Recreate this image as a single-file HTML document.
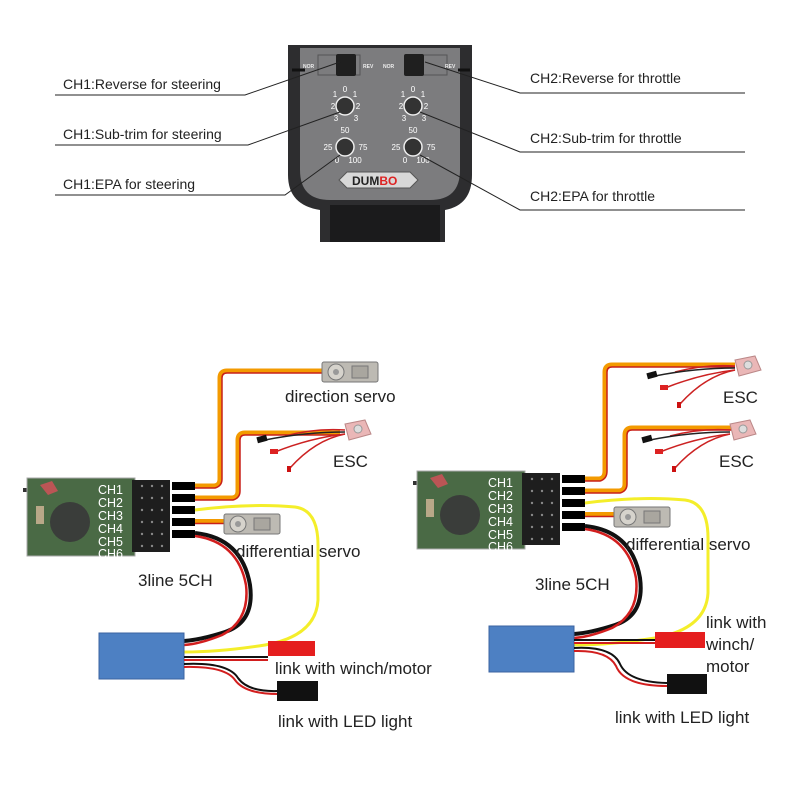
<!DOCTYPE html>
<html><head><meta charset="utf-8"><style>
html,body{margin:0;padding:0;background:#fff;}
svg{display:block;}
text{font-family:"Liberation Sans",sans-serif;}
</style></head><body>
<svg width="800" height="789" viewBox="0 0 800 789" xmlns="http://www.w3.org/2000/svg">
<defs>
<g id="rx">
  <rect x="23" y="488" width="6" height="4" fill="#333"/>
  <rect x="27" y="478" width="108" height="78" fill="#4a6a45"/>
  <rect x="27" y="478" width="108" height="78" fill="none" stroke="#aaa" stroke-width="1"/>
  <circle cx="70" cy="522" r="20" fill="#3a3d3a"/>
  <rect x="36" y="506" width="8" height="18" fill="#b9a888"/>
  <path d="M40 485 l12 -4 l6 10 l-10 4z" fill="#b55"/>
  <rect x="132" y="480" width="38" height="72" fill="#1e1e1e"/>
  <g fill="#888">
    <circle cx="142" cy="486" r="1.2"/><circle cx="152" cy="486" r="1.2"/><circle cx="162" cy="486" r="1.2"/>
    <circle cx="142" cy="498" r="1.2"/><circle cx="152" cy="498" r="1.2"/><circle cx="162" cy="498" r="1.2"/>
    <circle cx="142" cy="510" r="1.2"/><circle cx="152" cy="510" r="1.2"/><circle cx="162" cy="510" r="1.2"/>
    <circle cx="142" cy="522" r="1.2"/><circle cx="152" cy="522" r="1.2"/><circle cx="162" cy="522" r="1.2"/>
    <circle cx="142" cy="534" r="1.2"/><circle cx="152" cy="534" r="1.2"/><circle cx="162" cy="534" r="1.2"/>
    <circle cx="142" cy="546" r="1.2"/><circle cx="152" cy="546" r="1.2"/><circle cx="162" cy="546" r="1.2"/>
  </g>
  <g fill="#000">
    <rect x="172" y="482" width="23" height="8"/><rect x="172" y="494" width="23" height="8"/>
    <rect x="172" y="506" width="23" height="8"/><rect x="172" y="518" width="23" height="8"/>
    <rect x="172" y="530" width="23" height="8"/>
  </g>
  <!-- CH3 yellow -->
  <path d="M195 510 Q250 503 295 507 Q318 510 318 545 V600 Q316 636 265 645 Q220 652 184 652" fill="none" stroke="#f4ee2a" stroke-width="3"/>
  <!-- CH4 -->
  <path d="M195 521 H226" stroke="#f39a00" stroke-width="4"/>
  <path d="M195 523.5 H226" stroke="#c8201a" stroke-width="1.5"/>
  <!-- CH5 -->
  <path d="M195 533 Q242 538 250 585 Q255 622 225 632 Q200 640 184 641" fill="none" stroke="#111" stroke-width="4"/>
  <path d="M195 536 Q238 542 246 585 Q250 620 222 635 Q200 644 184 645" fill="none" stroke="#d21e1e" stroke-width="2.5"/>
  <!-- diff servo -->
  <rect x="224" y="514" width="56" height="20" rx="2" fill="#bdbab3" stroke="#777"/>
  <circle cx="238" cy="524" r="8" fill="#d6d3cc" stroke="#777"/>
  <circle cx="238" cy="524" r="3" fill="#999"/>
  <rect x="254" y="518" width="16" height="12" fill="#a9a69f" stroke="#777"/>
  <!-- blue box -->
  <rect x="99" y="633" width="85" height="46" fill="#4d80c3" stroke="#3b63a0"/>
</g>
<g id="esc">
  <path d="M0 0 Q-30 -2 -60 6" fill="none" stroke="#c22" stroke-width="1.5"/>
  <path d="M0 2 Q-40 2 -80 10" fill="none" stroke="#222" stroke-width="1.5"/>
  <path d="M0 4 Q-35 8 -70 22" fill="none" stroke="#c22" stroke-width="1.5"/>
  <path d="M0 4 Q-30 10 -55 38" fill="none" stroke="#c22" stroke-width="1.5"/>
  <rect x="-88" y="6" width="10" height="6" fill="#111" transform="rotate(-15 -83 9)"/>
  <rect x="-75" y="19" width="8" height="5" fill="#d22"/>
  <rect x="-58" y="36" width="4" height="6" fill="#c11"/>
  <path d="M0 -6 L20 -10 L26 4 L4 10z" fill="#eab7b7" stroke="#b88"/>
  <circle cx="13" cy="-1" r="4" fill="#ddd" stroke="#999"/>
</g>
</defs>

<!-- Transmitter -->
<path d="M288 45 H472 V175 Q472 205 445 210 V242 H320 V210 Q288 205 288 175Z" fill="#2d2d2f"/>
<path d="M300 48 H460 V170 Q460 200 430 200 H330 Q300 200 300 170Z" fill="#7c7c7e"/>
<rect x="330" y="205" width="110" height="37" fill="#1b1b1c"/>
<path d="M292 70 H305 M458 70 H470" stroke="#111" stroke-width="3"/>
<rect x="318" y="55" width="42" height="20" fill="none" stroke="#555"/>
<rect x="405" y="55" width="42" height="20" fill="none" stroke="#555"/>
<rect x="336" y="54" width="20" height="22" rx="2" fill="#1f1f1f"/>
<rect x="404" y="54" width="20" height="22" rx="2" fill="#1f1f1f"/>
<g font-size="5" fill="#eee" font-weight="bold"><text x="303" y="68">NOR</text><text x="363" y="68">REV</text><text x="383" y="68">NOR</text><text x="445" y="68">REV</text></g>
<g fill="#333" stroke="#eee" stroke-width="1.5">
<circle cx="345" cy="106" r="9"/><circle cx="413" cy="106" r="9"/><circle cx="345" cy="147" r="9"/><circle cx="413" cy="147" r="9"/>
</g>
<g font-size="8" fill="#fff" text-anchor="middle">
<text x="345" y="92">0</text><text x="335" y="97">1</text><text x="355" y="97">1</text><text x="333" y="109">2</text><text x="358" y="109">2</text><text x="336" y="121">3</text><text x="356" y="121">3</text>
<text x="413" y="92">0</text><text x="403" y="97">1</text><text x="423" y="97">1</text><text x="401" y="109">2</text><text x="426" y="109">2</text><text x="404" y="121">3</text><text x="424" y="121">3</text>
<text x="345" y="133">50</text><text x="328" y="150">25</text><text x="363" y="150">75</text><text x="337" y="163">0</text><text x="355" y="163">100</text>
<text x="413" y="133">50</text><text x="396" y="150">25</text><text x="431" y="150">75</text><text x="405" y="163">0</text><text x="423" y="163">100</text>
</g>
<path d="M347 172 H410 L418 180 L410 188 H347 L339 180Z" fill="#d8d8d8" stroke="#555"/>
<text x="352" y="185" font-size="12" font-weight="bold" fill="#222">DUM<tspan fill="#d22">BO</tspan></text>

<!-- callouts -->
<g stroke="#222" stroke-width="1" fill="none">
<path d="M55 95 H245 L340 62"/>
<path d="M55 145 H248 L340 112"/>
<path d="M55 195 H285 L340 155"/>
<path d="M745 93 H520 L425 62"/>
<path d="M745 152 H520 L420 112"/>
<path d="M745 210 H520 L420 155"/>
</g>
<g font-size="14" fill="#222">
<text x="63" y="89">CH1:Reverse for steering</text>
<text x="63" y="139">CH1:Sub-trim for steering</text>
<text x="63" y="189">CH1:EPA for steering</text>
<text x="530" y="83">CH2:Reverse for throttle</text>
<text x="530" y="143">CH2:Sub-trim for throttle</text>
<text x="530" y="201">CH2:EPA for throttle</text>
</g>

<!-- Left receiver -->
<use href="#rx"/>
<path d="M195 486 H213 Q220 486 220 479 V378 Q220 371 227 371 H322" fill="none" stroke="#f39a00" stroke-width="5"/>
<path d="M195 488 H215 Q222 486 222 479 V378 Q222 373 227 373 H322" fill="none" stroke="#c8201a" stroke-width="1.5"/>
<path d="M195 498 H231 Q238 498 238 491 V440 Q238 433 245 433 H340" fill="none" stroke="#f39a00" stroke-width="5"/>
<path d="M195 500 H233 Q240 498 240 491 V440 Q240 435 245 435 H340" fill="none" stroke="#c8201a" stroke-width="1.5"/>
<rect x="322" y="362" width="56" height="20" rx="2" fill="#bdbab3" stroke="#777"/>
<circle cx="336" cy="372" r="8" fill="#d6d3cc" stroke="#777"/><circle cx="336" cy="372" r="3" fill="#999"/>
<rect x="352" y="366" width="16" height="12" fill="#a9a69f" stroke="#777"/>
<use href="#esc" transform="translate(345 430)"/>
<path d="M184 657 H268" stroke="#111" stroke-width="2"/><path d="M184 660 H268" stroke="#d21e1e" stroke-width="2"/>
<rect x="268" y="641" width="47" height="15" fill="#e51e1e"/>
<path d="M184 664 Q228 662 238 678 Q248 692 278 691" fill="none" stroke="#111" stroke-width="2"/>
<path d="M184 667 Q225 666 235 680 Q245 694 278 694" fill="none" stroke="#d21e1e" stroke-width="2"/>
<rect x="277" y="681" width="41" height="20" fill="#111"/>
<g font-size="12.5" fill="#fff"><text x="98" y="494">CH1</text><text x="98" y="507">CH2</text><text x="98" y="520">CH3</text><text x="98" y="533">CH4</text><text x="98" y="546">CH5</text><text x="98" y="558">CH6</text></g>
<g font-size="17" fill="#222">
<text x="285" y="402">direction servo</text>
<text x="333" y="467">ESC</text>
<text x="236" y="557">differential servo</text>
<text x="138" y="586">3line 5CH</text>
<text x="275" y="674">link with winch/motor</text>
<text x="278" y="727">link with LED light</text>
</g>

<!-- Right receiver -->
<use href="#rx" transform="translate(390 -7)"/>
<path d="M585 479 H598 Q605 479 605 471 V372 Q605 365 612 365 H735" fill="none" stroke="#f39a00" stroke-width="5"/>
<path d="M585 481 H600 Q607 479 607 471 V372 Q607 367 612 367 H735" fill="none" stroke="#c8201a" stroke-width="1.5"/>
<path d="M585 491 H618 Q625 491 625 484 V435 Q625 428 632 428 H735" fill="none" stroke="#f39a00" stroke-width="5"/>
<path d="M585 493 H620 Q627 491 627 484 V435 Q627 430 632 430 H735" fill="none" stroke="#c8201a" stroke-width="1.5"/>
<use href="#esc" transform="translate(735 366)"/>
<use href="#esc" transform="translate(730 430)"/>
<path d="M574 640 H655" stroke="#111" stroke-width="2"/><path d="M574 643 H655" stroke="#d21e1e" stroke-width="2"/>
<rect x="655" y="632" width="50" height="16" fill="#e51e1e"/>
<path d="M574 648 Q612 646 620 664 Q628 682 667 683" fill="none" stroke="#111" stroke-width="2"/>
<path d="M574 651 Q608 650 616 666 Q624 686 667 686" fill="none" stroke="#d21e1e" stroke-width="2"/>
<rect x="667" y="674" width="40" height="20" fill="#111"/>
<g font-size="12.5" fill="#fff"><text x="488" y="487">CH1</text><text x="488" y="500">CH2</text><text x="488" y="513">CH3</text><text x="488" y="526">CH4</text><text x="488" y="539">CH5</text><text x="488" y="551">CH6</text></g>
<g font-size="17" fill="#222">
<text x="723" y="403">ESC</text>
<text x="719" y="467">ESC</text>
<text x="626" y="550">differential servo</text>
<text x="535" y="590">3line  5CH</text>
<text x="706" y="628">link with</text>
<text x="706" y="650">winch/</text>
<text x="706" y="672">motor</text>
<text x="615" y="723">link with LED light</text>
</g>
</svg>
</body></html>
